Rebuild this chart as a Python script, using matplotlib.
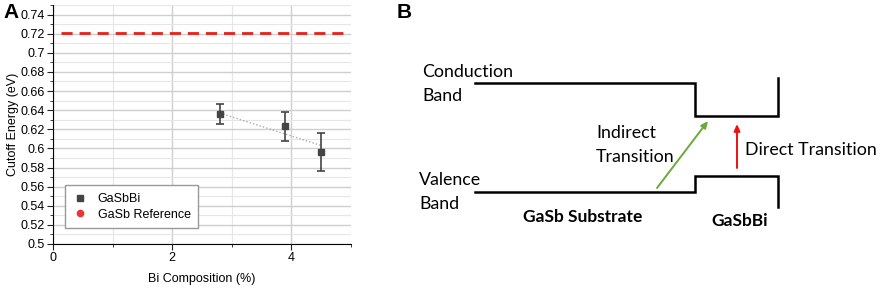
import matplotlib
matplotlib.use("Agg")
import matplotlib.pyplot as plt
from matplotlib.ticker import MultipleLocator

# panel A data
bi_pct = [2.8, 3.9, 4.5]
cutoff = [0.636, 0.623, 0.596]
cutoff_err = [0.010, 0.015, 0.020]
fit_x = [2.8, 4.5]
fit_y = [0.637, 0.603]
ref_x = [0.13, 4.87]
ref_y = [0.721, 0.721]
y_ticks = [0.5, 0.52, 0.54, 0.56, 0.58, 0.6, 0.62, 0.64, 0.66, 0.68, 0.7, 0.72, 0.74]
y_labels = ["0.5", "0.52", "0.54", "0.56", "0.58", "0.6", "0.62", "0.64",
            "0.66", "0.68", "0.7", "0.72", "0.74"]

# panel B band diagram (pixel-like units, y down)
cb_x = [75, 295, 295, 378, 378]
cb_y = [83, 83, 116, 116, 78]
vb_x = [75, 295, 295, 378, 378]
vb_y = [192, 192, 176, 176, 207]
indirect = [(257, 188), (308, 121)]
direct = [(337, 168), (337, 124)]

plt.rcParams["font.family"] = ["Liberation Sans", "DejaVu Sans"]
fig = plt.figure(figsize=(8.86, 2.88), dpi=100)

# ---- panel A
ax = fig.add_axes([53 / 886, 44 / 288, 298 / 886, 239 / 288])
ax.set_xlim(0, 5)
ax.set_ylim(0.5, 0.75)
ax.xaxis.set_major_locator(MultipleLocator(2))
ax.xaxis.set_minor_locator(MultipleLocator(1))
ax.yaxis.set_minor_locator(MultipleLocator(0.01))
ax.set_yticks(y_ticks)
ax.set_yticklabels(y_labels)
ax.grid(which="major", color="#cfcfcf", lw=1.0)
ax.grid(which="minor", color="#e6e6e6", lw=0.8)
ax.set_axisbelow(True)
for s in ["top", "right"]:
    ax.spines[s].set_visible(False)
ax.tick_params(which="major", length=4, labelsize=9, color="#222", pad=2)
ax.tick_params(which="minor", length=2.5, color="#222")
ax.set_xlabel("Bi Composition (%)", fontsize=9, labelpad=6)
ax.set_ylabel("Cutoff Energy (eV)", fontsize=9, labelpad=1)

ax.plot(fit_x, fit_y, ls=(0, (1, 1.5)), color="#aaaaaa", lw=1)
ax.errorbar(bi_pct, cutoff, yerr=cutoff_err, fmt="s", color="#444444", ms=4.5,
            capsize=3, elinewidth=1.2, capthick=1.2)
ax.plot(ref_x, ref_y, ls=(0, (4, 2.5)), color="#e8201a", lw=2)
ax.plot([], [], "s", color="#444444", ms=4.5, ls="none", label="GaSbBi")
ax.plot([], [], "o", color="#ee3333", ms=4.5, ls="none", label="GaSb Reference")
leg = ax.legend(loc="lower left", bbox_to_anchor=(0.02, 0.04), fontsize=9,
                fancybox=False, framealpha=1, edgecolor="#999999",
                handletextpad=0.8, borderpad=0.6, handlelength=1.2,
                labelspacing=0.3)
fig.text(3 / 886, 1 - 13 / 288, "A", fontsize=15, fontweight="bold", va="center")

# ---- panel B
bx = fig.add_axes([400 / 886, 0, 486 / 886, 1])
bx.set_xlim(0, 486)
bx.set_ylim(288, 0)
bx.axis("off")
bx.plot(cb_x, cb_y, color="black", lw=1.8, solid_joinstyle="miter")
bx.plot(vb_x, vb_y, color="black", lw=1.8, solid_joinstyle="miter")
bx.annotate("", xy=indirect[1], xytext=indirect[0],
            arrowprops=dict(arrowstyle="-|>,head_length=0.4,head_width=0.18",
                            color="#6aaa3a", lw=1.4, shrinkA=0, shrinkB=0))
bx.annotate("", xy=direct[1], xytext=direct[0],
            arrowprops=dict(arrowstyle="-|>,head_length=0.4,head_width=0.18",
                            color="#ee1111", lw=1.4, shrinkA=0, shrinkB=0))
tf = ["Lato", "DejaVu Sans"]
tk = dict(fontsize=12.8, family=tf, va="center")
bx.text(22, 72, "Conduction", **tk)
bx.text(22, 96, "Band", **tk)
bx.text(19, 180, "Valence", **tk)
bx.text(19, 204, "Band", **tk)
bx.text(196, 133, "Indirect", **tk)
bx.text(196, 157, "Transition", **tk)
bx.text(345, 150, "Direct Transition", **tk)
bx.text(183, 217, "GaSb Substrate", fontsize=12.5, family=tf, fontweight="bold",
        ha="center", va="center")
bx.text(340, 221, "GaSbBi", fontsize=12.5, family=tf, fontweight="bold",
        ha="center", va="center")
fig.text(397 / 886, 1 - 12 / 288, "B", fontsize=15, fontweight="bold", va="center")

fig.savefig("out.png", dpi=100)
